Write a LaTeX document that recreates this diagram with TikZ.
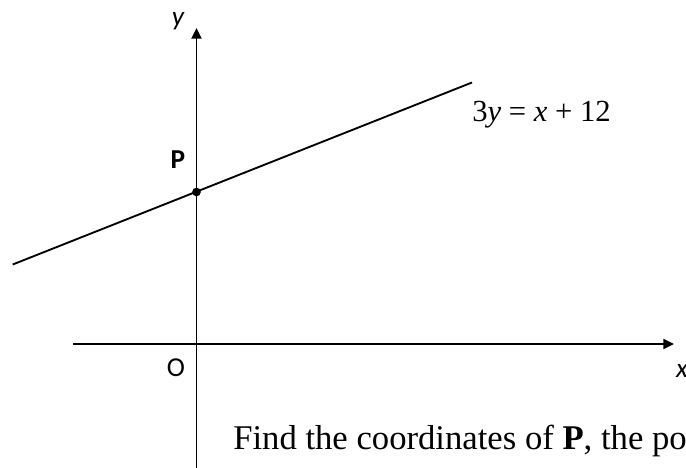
\documentclass[tikz,border=0pt]{standalone}
\usepackage{fontspec}
\setmainfont{Liberation Serif}
\newfontfamily\labelfont{Carlito}
\usetikzlibrary{arrows.meta,positioning}

\begin{document}
\begin{tikzpicture}[
  x=0.75pt, y=-0.75pt,
  axis/.style={line width=1.4pt, -{Triangle[length=8pt,width=7.5pt]}},
  graph/.style={line width=1.4pt},
  lbl/.style={font=\labelfont\fontsize{20.5}{20.5}\selectfont, inner sep=0pt},
  eqn/.style={font=\fontsize{23}{23}\selectfont, inner sep=0pt, anchor=base west},
  task/.style={font=\fontsize{26}{26}\selectfont, inner sep=0pt, anchor=base west}
]
  \clip (0,0) rectangle (686,468);

  % Axes
  \coordinate (xl) at (73,344);
  \coordinate (xr) at (674,344);
  \coordinate (yb) at (196.5,470);
  \coordinate (yt) at (196.5,28);
  \draw[axis] (xl) -- (xr);
  \draw[axis] (yb) -- (yt);

  % Line 3y = x + 12
  \coordinate (la) at (12.7,264.5);
  \coordinate (lb) at (472,82.5);
  \draw[graph] (la) -- (lb);
  \node[circle, fill, inner sep=0pt, minimum size=6.5pt] (P) at (196.5,192) {};

  % Labels
  \node[lbl] (ylab) at (178,21) {\itshape y};
  \node[lbl] (xlab) at (682,371) {\itshape x};
  \node[lbl] (olab) at (176,368) {O};
  \node[lbl] (plab) at (178,160) {\bfseries P};
  \node[eqn] (eq) at (472,121) {3\textit{y} = \textit{x} + 12};

  % Question text
  \node[task] (find) at (233,449) {Find the coordinates of \textbf{P}, the po};
\end{tikzpicture}
\end{document}
